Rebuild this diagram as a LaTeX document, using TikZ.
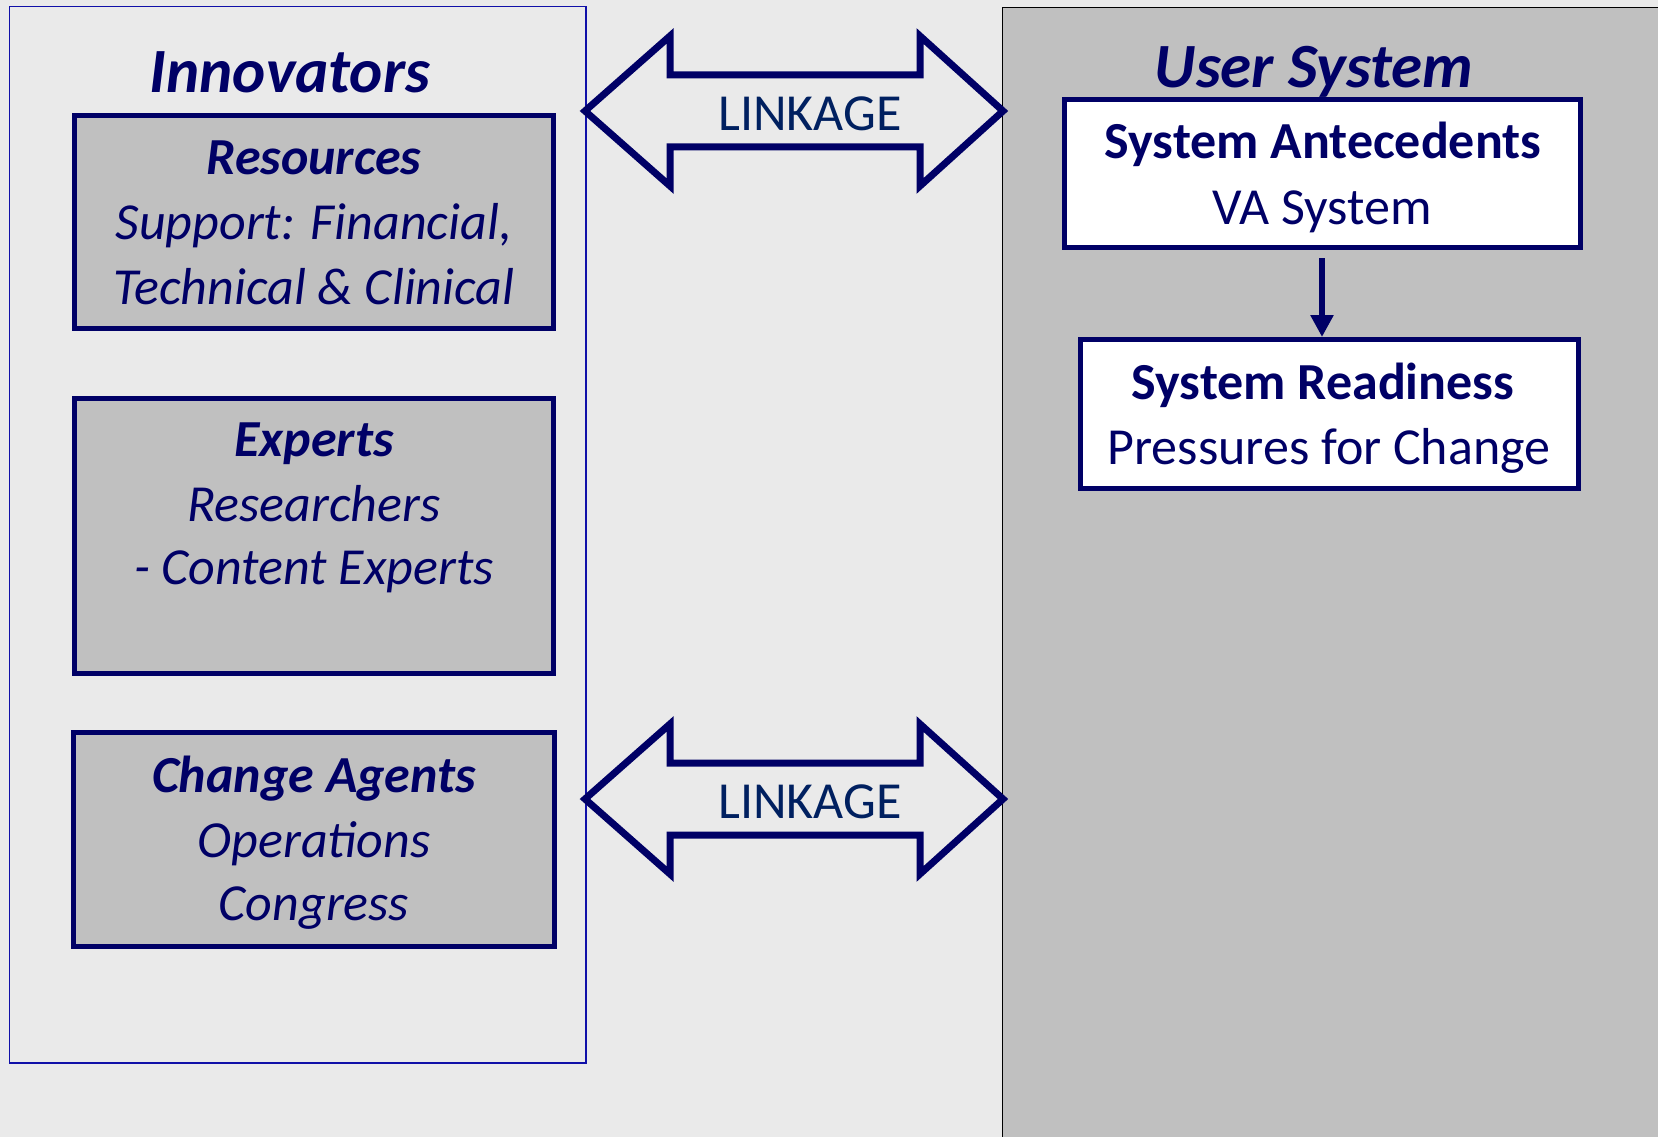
\documentclass[tikz,border=0pt]{standalone}
\usepackage{fontspec}
\setmainfont{Carlito}
\usetikzlibrary{arrows.meta}
\definecolor{navy}{HTML}{000066}
\definecolor{linkblue}{HTML}{002060}
\definecolor{bggray}{HTML}{EAEAEA}
\definecolor{boxgray}{HTML}{C0C0C0}
\definecolor{panelblue}{HTML}{1010A8}
\begin{document}
\begin{tikzpicture}[x=1pt,y=-1pt,
  txt/.style={anchor=base, inner sep=0pt, text=navy},
  titletxt/.style={txt, font=\fontsize{63}{76}\selectfont\bfseries\itshape},
  headit/.style={txt, font=\fontsize{52}{64}\selectfont\bfseries\itshape},
  bodyit/.style={txt, font=\fontsize{52}{64}\selectfont\itshape},
  headrm/.style={txt, font=\fontsize{52}{64}\selectfont\bfseries},
  bodyrm/.style={txt, font=\fontsize{52}{64}\selectfont},
  graybox/.style={rectangle, draw=navy, line width=5pt, fill=boxgray, inner sep=0pt, outer sep=0pt},
  whitebox/.style={rectangle, draw=navy, line width=5pt, fill=white, inner sep=0pt, outer sep=0pt},
  linkarrow/.style={draw=navy, line width=7pt, line join=miter, fill=bggray},
  linktxt/.style={anchor=base, inner sep=0pt, text=linkblue, font=\fontsize{52}{64}\selectfont},
  flow/.style={draw=navy, line width=6pt, -{Triangle[length=22pt,width=22pt]}}
]
\useasboundingbox (0,0) rectangle (1658,1137);
\fill[bggray] (0,0) rectangle (1658,1137);

% panels
\node (userpanel) [rectangle, draw=black, line width=1.5pt, fill=boxgray, anchor=north west,
  minimum width=720pt, minimum height=1200pt, inner sep=0pt] at (1001.5,7) {};
\node (innopanel) [rectangle, draw=panelblue, line width=1.5pt, inner sep=0pt,
  minimum width=576.4pt, minimum height=1056.3pt] at (297.8,534.9) {};

% titles
\node (innotitle) [titletxt] at (290,93) {Innovators};
\node (usertitle) [titletxt] at (1314,88) {User System};

% left boxes
\node (res) [graybox, minimum width=479pt, minimum height=213pt] at (314,222) {};
\node (resA) [headit] at (314,175) {Resources};
\node (resB) [bodyit] at (314,239) {Support: Financial,};
\node (resC) [bodyit] at (314,304) {Technical \& Clinical};

\node (exp) [graybox, minimum width=479pt, minimum height=275pt] at (314,535.5) {};
\node (expA) [headit] at (314,456.5) {Experts};
\node (expB) [bodyit] at (314,521) {Researchers};
\node (expC) [bodyit] at (314,584.5) {- Content Experts};

\node (chg) [graybox, minimum width=481pt, minimum height=214pt] at (314,839.5) {};
\node (chgA) [headit] at (314,792.5) {Change Agents};
\node (chgB) [bodyit] at (314,857) {Operations};
\node (chgC) [bodyit] at (314,920.5) {Congress};

% right boxes
\node (ant) [whitebox, minimum width=516pt, minimum height=148pt] at (1322,173.5) {};
\node (antA) [headrm] at (1323,159) {System Antecedents};
\node (antB) [bodyrm] at (1322,224) {VA System};

\node (read) [whitebox, minimum width=498pt, minimum height=148.5pt] at (1329,413.75) {};
\node (readA) [headrm] at (1323,399) {System Readiness};
\node (readB) [bodyrm] at (1329,464) {Pressures for Change};

\draw[flow] ([yshift=-10.5pt]ant.south) -- ([yshift=2.5pt]ant.south |- read.north);

% linkage arrows
\coordinate (link1) at (794,111);
\coordinate (link2) at (794,799);
\foreach \c in {link1,link2}{
  \draw[linkarrow, shift={(\c)}] (-209,0) -- (-124,-75) -- (-124,-36) -- (126,-36) -- (126,-75)
    -- (209,0) -- (126,75) -- (126,36) -- (-124,36) -- (-124,75) -- cycle;
}
\node (linkA) [linktxt] at (810,131) {LINKAGE};
\node (linkB) [linktxt] at (810,818) {LINKAGE};
\end{tikzpicture}
\end{document}
